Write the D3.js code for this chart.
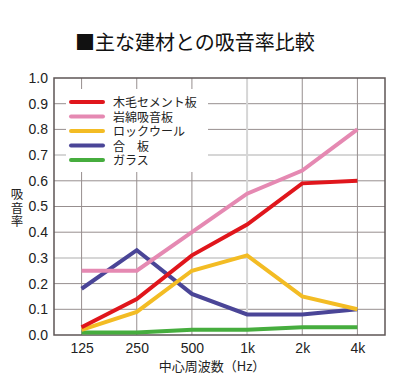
<!DOCTYPE html>
<html><head><meta charset="utf-8">
<script src="https://cdn.jsdelivr.net/npm/d3@7"></script>
<style>body{margin:0;background:#fff}svg{display:block}</style>
</head><body>
<script>
const categories = ["125","250","500","1k","2k","4k"];
const seriesNames = ["木毛セメント板","岩綿吸音板","ロックウール","合　板","ガラス"];
const mokumou = [0.03,0.14,0.31,0.43,0.59,0.60];
const ganmen = [0.25,0.25,0.40,0.55,0.64,0.80];
const rockwool = [0.02,0.09,0.25,0.31,0.15,0.10];
const gouhan = [0.18,0.33,0.16,0.08,0.08,0.10];
const glass = [0.01,0.01,0.02,0.02,0.03,0.03];
const yTicks = [0,0.1,0.2,0.3,0.4,0.5,0.6,0.7,0.8,0.9,1.0];
const colors = ["#e0161c","#e589b2","#f3bc24","#4a4597","#46ad3e"];
const seriesValues = [mokumou,ganmen,rockwool,gouhan,glass];

const W=396,H=380, L=54, R=385, T=78, B=335;
const svg=d3.select("body").append("svg").attr("width",W).attr("height",H);
const x=d3.scalePoint().domain(categories).range([L,R]).padding(0.5);
const y=d3.scaleLinear().domain([0,1]).range([B,T]);
const jp='"Noto Sans CJK JP", sans-serif';
const num='"Liberation Sans", Arial, sans-serif';

svg.append("text").attr("x",75).attr("y",50).attr("font-family",jp).attr("font-size",20)
  .attr("fill","#111").text("■主な建材との吸音率比較");

// grid
const g=svg.append("g");
const light=d=>Math.abs(d-0.3)<1e-6||Math.abs(d-0.7)<1e-6;
g.selectAll(".hg").data(yTicks.filter(d=>d>0&&d<1)).join("line")
  .attr("x1",L).attr("x2",R).attr("y1",d=>y(d)).attr("y2",d=>y(d))
  .attr("stroke",d=>light(d)?"#d6d6d6":"#978f8f")
  .attr("stroke-width",d=>light(d)?2:1);
g.selectAll(".vg").data(categories).join("line")
  .attr("x1",d=>x(d)).attr("x2",d=>x(d)).attr("y1",T).attr("y2",B)
  .attr("stroke",d=>d==="1k"?"#d6d6d6":"#978f8f").attr("stroke-width",d=>d==="1k"?2:1);
// frame
svg.append("rect").attr("x",L).attr("y",T).attr("width",R-L).attr("height",B-T)
  .attr("fill","none").attr("stroke","#5e5656").attr("stroke-width",1.5);

// axes labels
const yAxis=d3.axisLeft(y).tickValues(yTicks).tickFormat(d3.format(".1f")).tickSize(0).tickPadding(6);
const ya=svg.append("g").attr("transform",`translate(${L},0)`).call(yAxis);
ya.select(".domain").remove();
ya.selectAll("text").attr("font-family",num).attr("font-size",14).attr("fill","#222");
const xAxis=d3.axisBottom(x).tickSize(0).tickPadding(8);
const xa=svg.append("g").attr("transform",`translate(0,${B})`).call(xAxis);
xa.select(".domain").remove();
xa.selectAll("text").attr("font-family",num).attr("font-size",14).attr("fill","#222");

svg.append("text").attr("x",212).attr("y",371).attr("text-anchor","middle")
  .attr("font-family",jp).attr("font-size",13).attr("fill","#222").text("中心周波数（Hz）");
svg.append("text").attr("x",17).attr("y",188)
  .style("writing-mode","vertical-rl").style("letter-spacing","1px")
  .attr("font-family",jp).attr("font-size",12.5).attr("fill","#222").text("吸音率");

// lines
const line=d3.line().x((d,i)=>x(categories[i])).y(d=>y(d));
const order=[4,3,2,0,1];
order.forEach(k=>{
  svg.append("path").datum(seriesValues[k]).attr("d",line).attr("fill","none")
    .attr("stroke",colors[k]).attr("stroke-width",4).attr("stroke-linejoin","miter");
});

// legend
const rowH=14.5, row0=102;
svg.append("rect").attr("x",66).attr("y",89).attr("width",142).attr("height",83).attr("fill","#fff");
const lg=svg.append("g");
seriesNames.forEach((n,i)=>{
  const yy=row0+i*rowH;
  lg.append("line").attr("x1",71).attr("x2",103).attr("y1",yy).attr("y2",yy)
    .attr("stroke",colors[i]).attr("stroke-width",4).attr("stroke-linecap","round");
});
const fo=svg.append("foreignObject").attr("x",113).attr("y",row0-rowH/2+0.5).attr("width",95).attr("height",rowH*5+2);
const div=fo.append("xhtml:div")
  .style("font-family",jp).style("font-size","12px").style("line-height",rowH+"px")
  .style("color","#222").style("white-space","nowrap");
div.html(seriesNames.join("<br>"));
</script>
</body></html>
